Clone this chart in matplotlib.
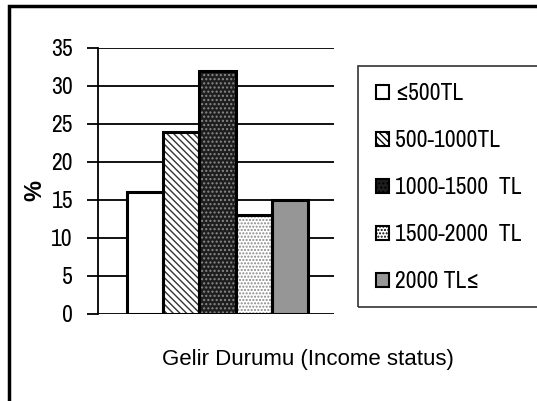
import matplotlib.pyplot as plt
from matplotlib.patches import Rectangle
from matplotlib import font_manager
import numpy as np

names = sorted({f.name for f in font_manager.fontManager.ttflist})
narrow = [n for n in names if 'Narrow' in n or 'Condensed' in n]
plt.rcParams['font.family'] = narrow[:1] + ['Liberation Sans', 'DejaVu Sans']

categories = ['≤500TL', '500-1000TL', '1000-1500  TL', '1500-2000  TL', '2000 TL≤']
values = [16, 24, 32, 13, 15]
yticks = [0, 5, 10, 15, 20, 25, 30, 35]

faces = ['white', 'white', '#1e1e1e', 'white', '#969696']
hatches = [None, '\\\\\\\\\\', '....', '.....', None]
hatch_cols = ['black', '#333333', '#8a8a8a', '#888888', 'black']

fig = plt.figure(figsize=(5.37, 4.01), dpi=100)
ax = fig.add_axes([98 / 537, 1 - 314 / 401, 236 / 537, 266 / 401])

x = np.arange(len(values))
handles = []
for i in range(len(values)):
    ax.bar(x[i], values[i], width=1.0, color=faces[i], hatch=hatches[i],
           edgecolor=hatch_cols[i], linewidth=0, zorder=3)
    ax.bar(x[i], values[i], width=1.0, fill=False, edgecolor='black',
           linewidth=2.2, zorder=4)
    handles.append(Rectangle((0, 0), 1, 1, facecolor=faces[i], hatch=hatches[i],
                             edgecolor='black', linewidth=1.5))

ax.set_xlim(-1.3, 5.22)
ax.set_ylim(0, 35)
ax.set_yticks(yticks)
ax.set_xticks([])
ax.yaxis.grid(True, color='black', linewidth=1.3)
ax.set_axisbelow(True)
for s in ['top', 'right', 'bottom']:
    ax.spines[s].set_visible(False)
ax.spines['left'].set_linewidth(1.3)
ax.tick_params(axis='y', length=8, width=1.3, labelsize=17, pad=10)
ax.set_ylabel('%', fontsize=17, fontweight='bold', family='Liberation Sans')
ax.yaxis.set_label_coords(-0.22, 0.466)
ax.set_xlabel('Gelir Durumu (Income status)', fontsize=16,
              family='Liberation Sans')
ax.xaxis.set_label_coords(0.89, -0.13)

fig.patches.append(Rectangle((358 / 537, 1 - 307 / 401), 0.5, 241 / 401,
                             transform=fig.transFigure, fill=False,
                             edgecolor='#333333', linewidth=1.2))
fig.legend(handles, categories, loc='upper left',
           bbox_to_anchor=(355 / 537, 1 - 62 / 401), frameon=False,
           fontsize=17, handlelength=0.55, handleheight=0.55,
           handletextpad=0.25, labelspacing=1.1)

fig.patches.append(Rectangle((9 / 537, -0.5), 1.0, 1 - 6 / 401 + 0.5,
                             transform=fig.transFigure, fill=False,
                             edgecolor='black', linewidth=2.5))

fig.savefig('out.png', dpi=100)
